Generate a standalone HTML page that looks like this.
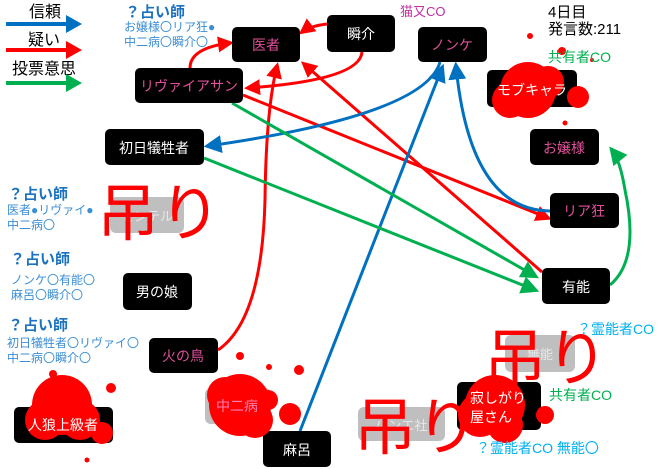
<!DOCTYPE html>
<html><head><meta charset="utf-8"><style>
html,body{margin:0;padding:0;background:#fff;}
svg{display:block;font-family:"Liberation Sans","Noto Sans CJK JP",sans-serif;}
</style></head><body>
<svg width="660" height="469" viewBox="0 0 660 469" xmlns="http://www.w3.org/2000/svg">
<defs>
<marker id="ar" viewBox="0 0 8 8" refX="6" refY="4" markerWidth="16" markerHeight="16" orient="auto" markerUnits="userSpaceOnUse"><path d="M0,0 L8,4 L0,8 z" fill="#ff0000"/></marker>
<marker id="ab2" viewBox="0 0 8 8" refX="6" refY="4" markerWidth="18" markerHeight="18" orient="auto" markerUnits="userSpaceOnUse"><path d="M0,0 L8,4 L0,8 z" fill="#0070c0"/></marker>
<marker id="ag" viewBox="0 0 8 8" refX="6" refY="4" markerWidth="18" markerHeight="18" orient="auto" markerUnits="userSpaceOnUse"><path d="M0,0 L8,4 L0,8 z" fill="#00b050"/></marker>
</defs>

<g font-size="16" fill="#000">
<text x="29" y="17">信頼</text>
<text x="28" y="45">疑い</text>
<text x="12" y="74">投票意思</text>
</g>
<line x1="6" y1="24" x2="68" y2="24" stroke="#0070c0" stroke-width="4"/><path d="M66,15 L82,24 L66,33z" fill="#0070c0"/>
<line x1="6" y1="50" x2="68" y2="50" stroke="#ff0000" stroke-width="4"/><path d="M66,41 L82,50 L66,59z" fill="#ff0000"/>
<line x1="6" y1="83" x2="68" y2="83" stroke="#00b050" stroke-width="4"/><path d="M66,74 L82,83 L66,92z" fill="#00b050"/>

<rect x="110" y="197" width="74" height="36" rx="6" fill="#bfbfbf"/>
<text x="147" y="221" font-size="13" fill="#e8e8e8" text-anchor="middle">センテル</text>
<rect x="505" y="335" width="70" height="37" rx="6" fill="#bfbfbf"/>
<text x="540" y="359" font-size="13" fill="#e8e8e8" text-anchor="middle">無能</text>
<rect x="358" y="407" width="87" height="34" rx="6" fill="#bfbfbf"/>
<text x="401" y="430" font-size="13" fill="#e8e8e8" text-anchor="middle">パンエ社</text>
<rect x="205" y="388" width="66" height="36" rx="6" fill="#bfbfbf"/>

<g fill="none" stroke-width="3">
<path d="M327,24 Q310,26 302,32" stroke="#ff0000" marker-end="url(#ar)"/>
<path d="M362,52 Q360,80 248,88" stroke="#ff0000" marker-end="url(#ar)"/>
<path d="M190,68 Q190,48 230,43" stroke="#ff0000" marker-end="url(#ar)"/>
<path d="M243,95 L548,218" stroke="#ff0000" marker-end="url(#ar)"/>
<path d="M542,272 L304,64" stroke="#ff0000" marker-end="url(#ar)"/>
<path d="M218,350 Q262,320 265,200 Q266,110 277,66" stroke="#ff0000" marker-end="url(#ar)"/>
<path d="M440,62 Q425,115 208,146" stroke="#0070c0" marker-end="url(#ab2)"/>
<path d="M300,431 L442,68" stroke="#0070c0" marker-end="url(#ab2)"/>
<path d="M550,211 Q470,210 456,66" stroke="#0070c0" marker-end="url(#ab2)"/>
<path d="M232,103 L535,276" stroke="#00b050" marker-end="url(#ag)"/>
<path d="M204,158 L535,290" stroke="#00b050" marker-end="url(#ag)"/>
<path d="M610,285 Q640,260 625,190 Q620,160 612,150" stroke="#00b050" marker-end="url(#ag)"/>
</g>

<g font-size="14">
<rect x="232" y="27" width="68" height="35" rx="5" fill="#000"/><text x="266" y="50" fill="#e0509a" text-anchor="middle">医者</text>
<rect x="327" y="15" width="68" height="37" rx="5" fill="#000"/><text x="361" y="39" fill="#fff" text-anchor="middle">瞬介</text>
<rect x="418" y="27" width="69" height="35" rx="5" fill="#000"/><text x="452" y="50" fill="#e0509a" text-anchor="middle">ノンケ</text>
<rect x="135" y="68" width="108" height="35" rx="5" fill="#000"/><text x="189" y="91" fill="#e0509a" text-anchor="middle">リヴァイアサン</text>
<rect x="105" y="129" width="99" height="36" rx="5" fill="#000"/><text x="154" y="153" fill="#fff" text-anchor="middle">初日犠牲者</text>
<rect x="487" y="70" width="90" height="37" rx="5" fill="#000"/>
<rect x="530" y="129" width="69" height="36" rx="5" fill="#000"/><text x="564" y="153" fill="#e0509a" text-anchor="middle">お嬢様</text>
<rect x="550" y="193" width="69" height="35" rx="5" fill="#000"/><text x="584" y="216" fill="#e0509a" text-anchor="middle">リア狂</text>
<rect x="542" y="268" width="68" height="36" rx="5" fill="#000"/><text x="576" y="292" fill="#fff" text-anchor="middle">有能</text>
<rect x="123" y="273" width="69" height="37" rx="5" fill="#000"/><text x="157" y="297" fill="#fff" text-anchor="middle">男の娘</text>
<rect x="149" y="338" width="69" height="35" rx="5" fill="#000"/><text x="183" y="361" fill="#e0509a" text-anchor="middle">火の鳥</text>
<rect x="263" y="431" width="68" height="36" rx="5" fill="#000"/><text x="297" y="455" fill="#fff" text-anchor="middle">麻呂</text>
<rect x="14" y="407" width="99" height="36" rx="5" fill="#000"/>
<rect x="457" y="382" width="84" height="48" rx="5" fill="#000"/>
</g>

<g fill="#ff0000">
<circle cx="528" cy="90" r="28"/><circle cx="510" cy="100" r="18"/><circle cx="548" cy="82" r="16"/><circle cx="578" cy="97" r="11"/>
<circle cx="530" cy="36" r="3"/><circle cx="562" cy="51" r="4"/><circle cx="565" cy="123" r="2.5"/><circle cx="592" cy="60" r="2"/>
<circle cx="240" cy="405" r="31"/><circle cx="225" cy="395" r="18"/><circle cx="255" cy="420" r="18"/><circle cx="268" cy="400" r="10"/><circle cx="290" cy="414" r="11"/>
<circle cx="240" cy="356" r="4"/><circle cx="299" cy="370" r="5"/><circle cx="269" cy="367" r="3"/>
<circle cx="62" cy="405" r="30"/><circle cx="45" cy="420" r="20"/><circle cx="80" cy="420" r="20"/><circle cx="102" cy="433" r="11"/>
<circle cx="53" cy="374" r="4"/><circle cx="111" cy="388" r="5"/><circle cx="82" cy="387" r="3"/><circle cx="87" cy="460" r="2.5"/>
<circle cx="495" cy="405" r="30"/><circle cx="480" cy="415" r="22"/><circle cx="505" cy="425" r="18"/><circle cx="545" cy="415" r="9"/>
</g>
<g font-size="14" fill="#fff">
<text x="532" y="95" text-anchor="middle">モブキャラ</text>
<text x="63" y="430" text-anchor="middle">人狼上級者</text>
<text x="470" y="403">寂しがり</text>
<text x="470" y="422">屋さん</text>
</g>
<text x="237" y="411" font-size="14" fill="#ff80b0" text-anchor="middle">中二病</text>

<g font-size="62" fill="#ff0000">
<text x="97" y="235">吊り</text>
<text x="484" y="380">吊り</text>
<text x="354" y="449">吊り</text>
</g>

<g font-size="12" fill="#3b8ed4">
<text x="125" y="17" font-size="15" font-weight="bold" fill="#1a72c0">？占い師</text>
<text x="124" y="31">お嬢様〇リア狂●</text>
<text x="124" y="46">中二病〇瞬介〇</text>
<text x="8" y="199" font-size="15" font-weight="bold" fill="#1a72c0">？占い師</text>
<text x="7" y="214">医者●リヴァイ●</text>
<text x="7" y="229">中二病〇</text>
<text x="10" y="264" font-size="15" font-weight="bold" fill="#1a72c0">？占い師</text>
<text x="11" y="284">ノンケ〇有能〇</text>
<text x="11" y="299">麻呂〇瞬介〇</text>
<text x="8" y="330" font-size="15" font-weight="bold" fill="#1a72c0">？占い師</text>
<text x="7" y="347">初日犠牲者〇リヴァイ〇</text>
<text x="7" y="362">中二病〇瞬介〇</text>
</g>
<text x="400" y="16" font-size="13" fill="#c030a0">猫又CO</text>
<g font-size="15" fill="#000">
<text x="548" y="17">4日目</text>
<text x="548" y="34">発言数:211</text>
</g>
<text x="548" y="62" font-size="14" fill="#00b050">共有者CO</text>
<text x="549" y="400" font-size="14" fill="#00b050">共有者CO</text>
<text x="577" y="334" font-size="14" fill="#00b0f0">？霊能者CO</text>
<text x="476" y="453" font-size="14" fill="#00b0f0">？霊能者CO 無能〇</text>
</svg>
</body></html>
